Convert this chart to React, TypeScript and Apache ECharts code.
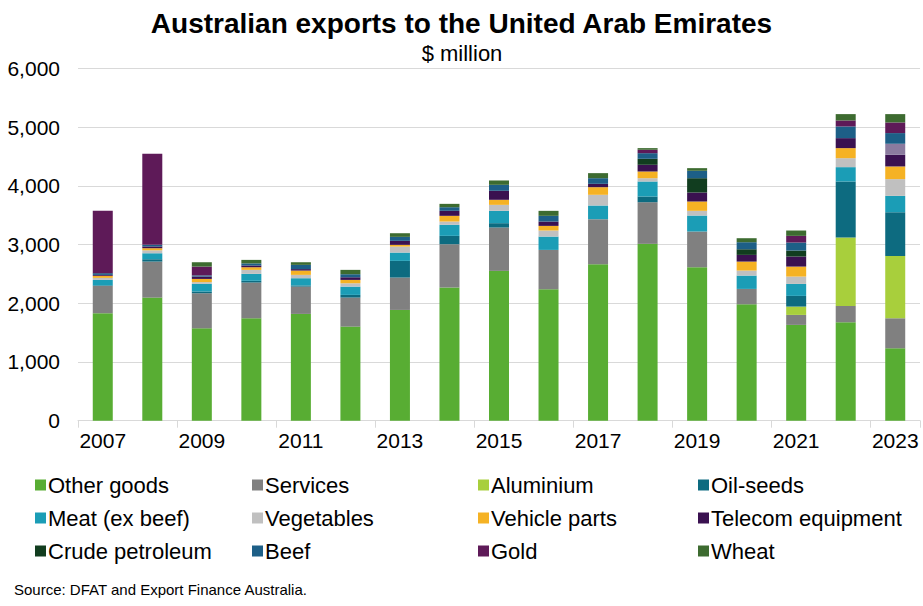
import React, { useEffect, useRef } from "react";
import * as echarts from "echarts";

const years = ["2007","2008","2009","2010","2011","2012","2013","2014","2015","2016","2017","2018","2019","2020","2021","2022","2023"];
const otherGoods = [1830,2096,1573,1744,1818,1602,1886,2266,2551,2238,2664,3011,2613,1982,1631,1676,1233];
const services = [465,613,597,608,465,494,551,739,738,670,767,709,608,262,170,278,511];
const aluminium = [0,0,0,0,0,0,0,0,0,0,0,0,0,0,142,1164,1062];
const oilSeeds = [10,40,30,30,20,46,284,142,74,0,0,97,0,0,182,955,744];
const meat = [92,102,129,118,123,141,142,188,210,227,233,256,272,227,204,244,278];
const vegetables = [35,50,30,68,57,57,102,56,102,103,182,56,80,85,125,153,285];
const vehicleParts = [35,36,55,45,73,57,29,97,86,79,130,114,159,153,170,171,216];
const telecom = [15,30,40,30,25,45,68,85,153,74,57,114,153,114,171,170,198];
const unlabelled = [0,0,0,0,0,0,0,0,0,0,0,0,0,0,0,0,188];
const crude = [0,0,0,0,0,0,0,0,0,0,0,102,244,96,102,0,0];
const beef = [30,27,20,35,72,52,68,62,102,97,96,96,126,120,136,199,182];
const gold = [1062,1551,150,0,0,0,0,0,0,0,0,58,0,0,114,102,181];
const wheat = [0,0,74,60,45,74,62,57,74,85,86,28,45,68,91,108,142];

const yTicks = [0, 1000, 2000, 3000, 4000, 5000, 6000];

const seriesDefs: [string, number[], string][] = [
  ["Other goods", otherGoods, "#58ad33"],
  ["Services", services, "#808080"],
  ["Aluminium", aluminium, "#a8cf3c"],
  ["Oil-seeds", oilSeeds, "#0d6b80"],
  ["Meat (ex beef)", meat, "#1b9db6"],
  ["Vegetables", vegetables, "#c0c0c0"],
  ["Vehicle parts", vehicleParts, "#f5b224"],
  ["Telecom equipment", telecom, "#3a1150"],
  ["Other", unlabelled, "#8b7b9f"],
  ["Crude petroleum", crude, "#113d1f"],
  ["Beef", beef, "#1d5f87"],
  ["Gold", gold, "#5e1a58"],
  ["Wheat", wheat, "#3d6b30"],
];

const legendCols = [
  ["Other goods", "Meat (ex beef)", "Crude petroleum"],
  ["Services", "Vegetables", "Beef"],
  ["Aluminium", "Vehicle parts", "Gold"],
  ["Oil-seeds", "Telecom equipment", "Wheat"],
];
const legendX = [35, 252, 478, 698];

export default function App() {
  const ref = useRef<HTMLDivElement>(null);
  useEffect(() => {
    if (!ref.current) return;
    const chart = echarts.init(ref.current, null, { renderer: "svg" });
    const font = "'Liberation Sans', Arial, sans-serif";
    chart.setOption({
      animation: false,
      backgroundColor: "#ffffff",
      title: [
        {
          text: "Australian exports to the United Arab Emirates",
          left: "center",
          top: 4,
          textStyle: { fontFamily: font, fontSize: 28, fontWeight: "bold", color: "#000" },
        },
        {
          text: "$ million",
          left: 457,
          top: 37,
          textAlign: "center",
          textStyle: { fontFamily: font, fontSize: 22, fontWeight: "normal", color: "#000" },
        },
        {
          text: "Source: DFAT and Export Finance Australia.",
          left: 9,
          top: 577,
          textStyle: { fontFamily: font, fontSize: 15, fontWeight: "normal", color: "#000" },
        },
      ],
      legend: legendCols.map((col, i) => ({
        data: col,
        orient: "vertical",
        left: legendX[i],
        top: 474,
        itemWidth: 11,
        itemHeight: 11,
        itemGap: 11,
        icon: "rect",
        textStyle: { fontFamily: font, fontSize: 22, color: "#000", lineHeight: 22, padding: [0, 0, 0, -3] },
        padding: 0,
      })),
      grid: { left: 78, right: 3, top: 68.3, bottom: 185.3, containLabel: false },
      xAxis: {
        type: "category",
        data: years,
        axisLine: { lineStyle: { color: "#d9d9d9", width: 1 } },
        axisTick: { show: true, interval: 1, length: 7, lineStyle: { color: "#d9d9d9" } },
        axisLabel: { interval: 1, fontFamily: font, fontSize: 21, color: "#000", margin: 9 },
      },
      yAxis: {
        type: "value",
        min: yTicks[0],
        max: yTicks[yTicks.length - 1],
        interval: 1000,
        axisLine: { show: false },
        axisTick: { show: false },
        splitLine: { lineStyle: { color: "#d9d9d9", width: 1 } },
        axisLabel: {
          fontFamily: font,
          fontSize: 21,
          color: "#000",
          margin: 18,
          formatter: (v: number) => v.toLocaleString("en-US"),
        },
      },
      series: seriesDefs.map(([name, data, color]) => ({
        name,
        type: "bar",
        stack: "total",
        data,
        barWidth: 20,
        itemStyle: { color },
      })),
    });
    return () => chart.dispose();
  }, []);
  return <div ref={ref} style={{ width: 923, height: 606, position: "absolute", left: 0, top: 0 }} />;
}
